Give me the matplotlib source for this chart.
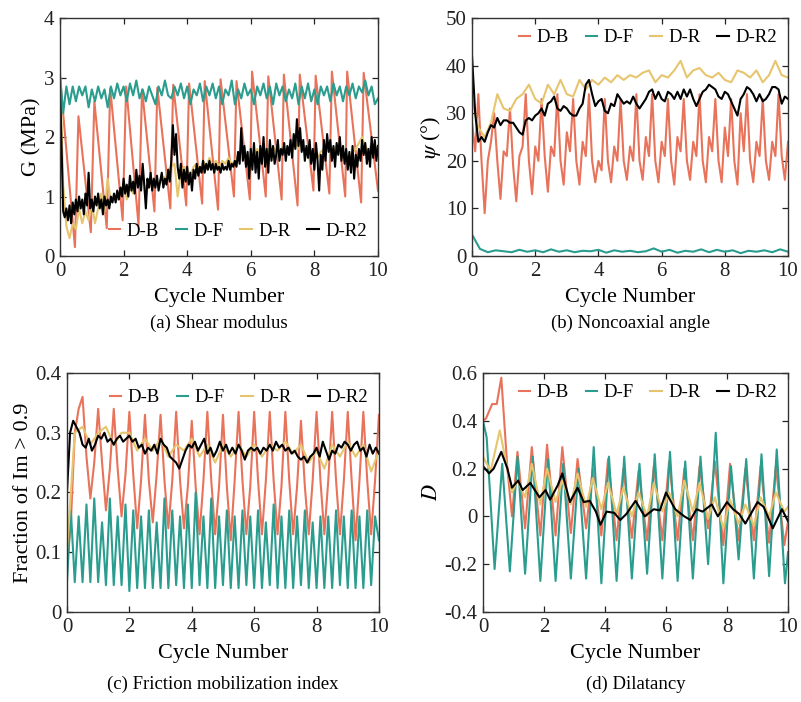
import numpy as np
import matplotlib
matplotlib.use("Agg")
import matplotlib.pyplot as plt

plt.rcParams['font.family'] = ['Liberation Serif', 'DejaVu Serif']
plt.rcParams['mathtext.fontset'] = 'stix'
plt.rcParams['axes.unicode_minus'] = False

# colours of the four specimens
c_b = '#E8735A'
c_f = '#2A9D8F'
c_r = '#E6C56E'
c_r2 = '#000000'
names = ['D-B', 'D-F', 'D-R', 'D-R2']

# ---------------- (a) shear modulus G (MPa) ----------------
xb_a = [0, 0.47, 0.58, 0.97, 1.08, 1.47, 1.58, 1.97, 2.08, 2.47, 2.58, 2.97, 3.06,
        3.47, 3.56, 3.97, 4.06, 4.47, 4.55, 4.97, 5.05, 5.47, 5.55, 5.97, 6.04,
        6.47, 6.55, 6.97, 7.04, 7.47, 7.54, 7.97, 8.04, 8.47, 8.55, 8.97, 9.03,
        9.47, 9.55, 10.0]
yb_a = [3.0, 0.15, 2.35, 0.4, 2.6, 0.47, 2.82, 0.6, 2.85, 0.52, 2.8, 0.75, 2.83,
        0.8, 2.88, 0.85, 2.9, 0.88, 2.94, 0.78, 2.97, 1.0, 2.94, 0.95, 3.1,
        1.0, 3.02, 0.95, 3.05, 0.85, 3.05, 1.1, 3.03, 1.05, 3.1, 1.0, 3.1,
        0.9, 3.08, 1.1]
yf_a = [3.05, 2.40, 2.85, 2.55, 2.85, 2.60, 2.85, 2.70, 2.85, 2.50,
        2.80, 2.60, 2.85, 2.65, 2.80, 2.50, 2.85, 2.65, 2.90, 2.70,
        2.85, 2.60, 2.90, 2.70, 2.95, 2.65, 2.80, 2.60, 2.85, 2.70,
        2.55, 2.85, 2.70, 2.95, 2.70, 2.65, 2.85, 2.70, 2.90, 2.65,
        2.85, 2.55, 2.80, 2.70, 2.90, 2.60, 2.85, 2.70, 2.90, 2.65,
        2.85, 2.55, 2.80, 2.70, 2.95, 2.55, 2.80, 2.65, 2.90, 2.70,
        2.80, 2.55, 2.85, 2.70, 2.90, 2.65, 2.85, 2.55, 2.90, 2.70,
        2.85, 2.60, 2.80, 2.65, 2.90, 2.55, 2.85, 2.65, 2.90, 2.60,
        2.80, 2.55, 2.85, 2.70, 2.85, 2.60, 2.90, 2.70, 2.85, 2.60,
        2.85, 2.70, 2.90, 2.65, 2.85, 2.75, 2.95, 2.70, 2.85, 2.55,
        2.65]
yr_a = [3.10, 1.20, 0.50, 0.30, 0.55, 0.45, 0.80, 0.55, 0.75, 0.60,
        0.90, 0.55, 0.80, 1.05, 0.75, 1.30, 0.90, 1.00, 0.95, 1.10,
        1.20, 0.95, 1.15, 1.05, 1.30, 1.20, 1.35, 1.00, 1.25, 1.15,
        1.30, 1.20, 1.35, 1.30, 1.45, 1.50, 1.55, 1.00, 1.40, 1.50,
        1.45, 1.35, 1.50, 1.55, 1.40, 1.60, 1.50, 1.65, 1.50, 1.60,
        1.50, 1.60, 1.55, 1.65, 1.55, 1.60, 1.70, 1.75, 1.65, 1.60,
        1.75, 1.65, 1.80, 1.70, 1.80, 1.65, 1.80, 1.75, 1.85, 1.70,
        1.85, 1.75, 1.80, 1.85, 1.90, 1.80, 1.90, 1.75, 1.80, 1.70,
        1.75, 1.65, 1.75, 1.80, 1.85, 1.80, 1.75, 1.85, 1.80, 1.75,
        1.70, 1.65, 1.75, 1.80, 1.90, 2.00, 1.85, 1.75, 1.90, 1.80,
        1.85]
yr2_a = [2.90, 1.80, 0.75, 0.65, 0.80, 0.60, 0.85, 0.55, 0.90, 0.70,
         0.95, 0.75, 1.00, 0.80, 0.95, 0.70, 1.05, 0.85, 1.40, 0.80,
         0.95, 0.75, 1.00, 0.85, 1.05, 0.80, 0.95, 0.70, 1.00, 0.85,
         0.95, 0.80, 1.00, 0.90, 1.05, 0.90, 1.10, 0.95, 1.15, 1.00,
         1.30, 1.05, 1.20, 1.00, 1.35, 1.10, 1.25, 1.05, 1.45, 1.15,
         1.35, 1.10, 1.55, 1.20, 0.80, 1.30, 1.15, 1.40, 1.10, 1.30,
         1.15, 1.35, 1.10, 1.25, 1.40, 1.15, 1.30, 1.20, 1.45, 1.25,
         1.60, 2.20, 1.70, 2.05, 1.50, 1.30, 1.55, 1.15, 1.45, 1.25,
         1.50, 1.20, 1.40, 1.10, 1.45, 1.30, 1.55, 1.35, 1.50, 1.40,
         1.60, 1.40, 1.55, 1.45, 1.60, 1.45, 1.55, 1.40, 1.55, 1.45,
         1.50, 1.40, 1.55, 1.45, 1.50, 1.45, 1.60, 1.45, 1.55, 1.50,
         1.60, 1.50, 1.75, 1.55, 2.15, 1.60, 1.85, 1.50, 1.75, 1.30,
         1.80, 1.45, 1.90, 1.40, 1.75, 1.30, 1.85, 1.55, 2.00, 1.50,
         1.80, 1.40, 1.95, 1.60, 1.85, 1.55, 1.70, 1.95, 1.60, 1.80,
         1.70, 1.90, 1.60, 1.85, 1.70, 1.95, 1.65, 2.05, 1.80, 2.30,
         1.85, 2.15, 1.75, 1.95, 1.60, 1.85, 1.65, 1.95, 1.55, 1.80,
         1.45, 1.90, 1.60, 1.10, 1.70, 1.45, 1.95, 1.60, 2.05, 1.75,
         1.95, 1.60, 1.85, 1.50, 1.90, 1.70, 2.00, 1.60, 1.85, 1.55,
         1.80, 1.45, 1.75, 1.40, 1.85, 1.30, 1.70, 1.50, 1.80, 1.60,
         1.95, 1.70, 1.90, 1.55, 1.80, 1.50, 2.00, 1.65, 1.95, 1.60,
         1.85]

# ---------------- (b) noncoaxial angle psi (deg) ----------------
yb_b = [28, 22, 34, 20, 9, 20, 24, 30, 20, 12,
        22, 21, 31, 19, 11.5, 21, 23, 34, 20, 13,
        23, 20, 33, 21, 13.5, 23, 21, 34, 20, 15,
        26, 22, 33, 20, 15, 24, 21, 34, 20, 15.5,
        20, 18, 33, 20, 15.5, 23, 20, 33, 20, 16,
        23, 20, 34, 20, 16, 25, 21, 34, 20, 15.5,
        24, 21, 33, 20, 15, 25, 22, 33, 20, 16,
        24, 21, 34, 20, 15.5, 25, 22, 33, 20, 15.5,
        27, 21, 33, 20, 15, 30, 22, 34, 20, 15.5,
        24, 21, 33, 20, 16, 24, 21, 34, 21, 16,
        24]
yf_b = [4.5, 1.5, 0.8, 1.2, 1.0, 0.8, 1.3, 0.9, 1.2, 0.8,
        1.4, 0.9, 1.2, 0.8, 1.1, 1.0, 1.3, 0.7, 1.2, 0.9,
        1.1, 0.8, 1.0, 1.6, 0.9, 1.3, 0.7, 1.1, 0.9, 1.4,
        0.8, 1.3, 0.9, 1.2, 0.6, 1.1, 0.9, 1.2, 0.8, 1.4,
        0.9]
yr_b = [33, 27, 25, 28, 34, 31, 30.5, 33, 34, 36,
        33, 32, 36, 34, 37, 34, 33.5, 37, 35, 37,
        36, 37.5, 36.5, 38, 37, 38, 37.5, 38.5, 39, 36.5,
        38, 37.5, 39, 41, 37.5, 39, 39.5, 38, 37.5, 38.5,
        37, 36.5, 39, 38.5, 37.5, 39, 36.5, 38, 41, 38,
        37.5]
yr2_b = [42, 30, 24, 25, 24, 26, 27.5, 27, 29, 27.5,
         28.5, 28.5, 28, 28, 27, 26, 25.5, 28.5, 29, 28.5,
         29.5, 30, 31, 29.5, 32, 32.5, 33.5, 31, 30.5, 31.5,
         31, 30, 29.5, 29.5, 31, 32, 36, 37, 34, 31.5,
         32.5, 33, 30.5, 30, 32, 31.5, 34, 33, 32, 32.5,
         32, 33.5, 32, 31, 32, 33, 34.5, 35, 33, 34.5,
         33, 32.5, 34.5, 34, 33, 34.5, 33, 35, 33.5, 35,
         33, 31.5, 33, 34.5, 35, 36, 35.5, 35, 33.5, 33,
         34.5, 34, 32.5, 31, 29.5, 33, 34, 35.5, 35, 34,
         32.5, 34, 32.5, 33, 34, 35.5, 35.5, 35, 32, 33.5,
         33]

# ---------------- (c) fraction of Im > 0.9 ----------------
yb_c = [0.08, 0.15, 0.30, 0.34, 0.36, 0.26, 0.19, 0.25,
        0.34, 0.25, 0.17, 0.24, 0.34, 0.24, 0.16, 0.23,
        0.335, 0.23, 0.14, 0.22, 0.33, 0.22, 0.15, 0.23,
        0.33, 0.22, 0.14, 0.22, 0.335, 0.22, 0.14, 0.21,
        0.32, 0.21, 0.13, 0.22, 0.335, 0.22, 0.13, 0.21,
        0.33, 0.21, 0.12, 0.22, 0.335, 0.22, 0.13, 0.21,
        0.335, 0.22, 0.13, 0.22, 0.335, 0.22, 0.13, 0.21,
        0.335, 0.22, 0.13, 0.21, 0.32, 0.21, 0.13, 0.22,
        0.335, 0.22, 0.13, 0.22, 0.335, 0.22, 0.13, 0.22,
        0.335, 0.22, 0.12, 0.22, 0.335, 0.22, 0.13, 0.22,
        0.33]
yf_c = [0.05, 0.17, 0.05, 0.16, 0.05, 0.18, 0.05, 0.19,
        0.05, 0.15, 0.045, 0.19, 0.045, 0.16, 0.045, 0.18,
        0.035, 0.17, 0.04, 0.16, 0.04, 0.17, 0.04, 0.15,
        0.04, 0.19, 0.04, 0.17, 0.045, 0.16, 0.04, 0.18,
        0.04, 0.20, 0.045, 0.16, 0.04, 0.19, 0.04, 0.16,
        0.045, 0.17, 0.04, 0.16, 0.04, 0.17, 0.045, 0.16,
        0.04, 0.17, 0.04, 0.15, 0.045, 0.18, 0.04, 0.16,
        0.04, 0.17, 0.04, 0.16, 0.045, 0.17, 0.04, 0.15,
        0.04, 0.16, 0.04, 0.16, 0.04, 0.17, 0.045, 0.16,
        0.04, 0.17, 0.04, 0.16, 0.04, 0.17, 0.045, 0.16,
        0.12]
yr_c = [0.10, 0.30, 0.31, 0.28, 0.30, 0.31, 0.28, 0.30, 0.30, 0.27,
        0.29, 0.27, 0.29, 0.26, 0.28, 0.27, 0.29, 0.26, 0.28, 0.25,
        0.28, 0.26, 0.28, 0.26, 0.28, 0.26, 0.28, 0.27, 0.285, 0.265,
        0.28, 0.25, 0.27, 0.24, 0.28, 0.26, 0.285, 0.26, 0.28, 0.235,
        0.27]
yr2_c = [0.20, 0.30, 0.32, 0.31, 0.30, 0.28, 0.275, 0.29, 0.27, 0.28,
         0.295, 0.29, 0.30, 0.285, 0.29, 0.28, 0.29, 0.295, 0.285, 0.29,
         0.295, 0.285, 0.29, 0.275, 0.28, 0.265, 0.275, 0.27, 0.28, 0.265,
         0.29, 0.28, 0.275, 0.26, 0.255, 0.25, 0.24, 0.255, 0.27, 0.28,
         0.275, 0.285, 0.27, 0.28, 0.29, 0.265, 0.275, 0.26, 0.27, 0.285,
         0.27, 0.28, 0.265, 0.275, 0.265, 0.28, 0.27, 0.255, 0.27, 0.275,
         0.27, 0.275, 0.265, 0.275, 0.27, 0.28, 0.27, 0.285, 0.275, 0.28,
         0.27, 0.275, 0.265, 0.27, 0.26, 0.255, 0.26, 0.25, 0.26, 0.265,
         0.275, 0.26, 0.285, 0.27, 0.255, 0.27, 0.265, 0.28, 0.275, 0.285,
         0.28, 0.27, 0.28, 0.285, 0.27, 0.275, 0.26, 0.28, 0.265, 0.275,
         0.265]

# ---------------- (d) dilatancy D ----------------
xb_d = [0, 0.1, 0.3, 0.45, 0.6, 0.8, 0.95, 1.13, 1.38, 1.6, 1.88, 2.1, 2.38,
        2.6, 2.88, 3.1, 3.38, 3.6, 3.88, 4.1, 4.38, 4.6, 4.88, 5.1, 5.38,
        5.6, 5.88, 6.1, 6.38, 6.6, 6.88, 7.1, 7.38, 7.6, 7.88, 8.1, 8.38,
        8.6, 8.88, 9.1, 9.38, 9.6, 9.88, 10.0]
yb_d = [0.40, 0.41, 0.47, 0.47, 0.58, 0.20, 0.0, 0.27, -0.05, 0.29, -0.08,
        0.30, -0.08, 0.29, -0.07, 0.24, -0.05, 0.20, -0.08, 0.24, -0.10,
        0.20, -0.09, 0.19, -0.10, 0.21, -0.10, 0.23, -0.10, 0.20, -0.10,
        0.21, -0.05, 0.23, -0.12, 0.22, -0.10, 0.20, -0.10, 0.21, -0.11,
        0.21, -0.12, -0.02]
xf_d = [0, 0.12, 0.38, 0.63, 0.88, 1.13, 1.38, 1.63, 1.88, 2.13, 2.38, 2.63,
        2.88, 3.13, 3.38, 3.63, 3.88, 4.13, 4.38, 4.63, 4.88, 5.13, 5.38,
        5.63, 5.88, 6.13, 6.38, 6.63, 6.88, 7.13, 7.38, 7.63, 7.88, 8.13,
        8.38, 8.63, 8.88, 9.13, 9.38, 9.63, 9.9, 10.0]
yf_d = [0.40, 0.33, -0.22, 0.22, -0.23, 0.25, -0.24, 0.25, -0.27, 0.24,
        -0.27, 0.22, -0.26, 0.20, -0.26, 0.29, -0.28, 0.25, -0.27, 0.25,
        -0.26, 0.22, -0.24, 0.26, -0.26, 0.27, -0.27, 0.23, -0.26, 0.25,
        -0.20, 0.35, -0.28, 0.21, -0.18, 0.24, -0.26, 0.26, -0.25, 0.28,
        -0.28, -0.15]
xr_d = [0, 0.25, 0.55, 0.95, 1.13, 1.38, 1.6, 1.88, 2.1, 2.38, 2.6, 2.88,
        3.1, 3.38, 3.6, 3.88, 4.1, 4.38, 4.6, 4.88, 5.1, 5.38, 5.6, 5.88,
        6.1, 6.38, 6.6, 6.88, 7.1, 7.38, 7.6, 7.88, 8.1, 8.38, 8.6, 8.88,
        9.1, 9.38, 9.6, 9.88, 10.0]
yr_d = [0.25, 0.19, 0.36, 0.10, 0.15, 0.08, 0.22, 0.05, 0.20, 0.06, 0.15,
        0.05, 0.18, 0.04, 0.16, 0.03, 0.14, 0.01, 0.12, 0.0, 0.10, 0.0,
        0.14, 0.02, 0.10, 0.0, 0.15, 0.02, 0.14, -0.01, 0.08, -0.05, 0.07,
        -0.03, 0.05, -0.04, 0.08, 0.0, 0.10, 0.02, 0.04]
xr2_d = [0, 0.2, 0.35, 0.6, 0.8, 0.95, 1.15, 1.3, 1.55, 1.85, 2.05, 2.2, 2.45,
         2.6, 2.85, 3.1, 3.3, 3.5, 3.7, 3.85, 4.05, 4.3, 4.5, 4.7, 5.0, 5.3,
         5.6, 5.8, 6.0, 6.3, 6.6, 6.8, 7.0, 7.2, 7.5, 7.7, 8.0, 8.2, 8.4, 8.6,
         9.0, 9.2, 9.5, 9.8, 10.0]
yr2_d = [0.21, 0.18, 0.20, 0.27, 0.20, 0.12, 0.15, 0.11, 0.14, 0.08, 0.11,
         0.07, 0.13, 0.18, 0.06, 0.12, 0.06, 0.065, 0.02, -0.035, 0.02, 0.015,
         -0.015, 0.01, 0.065, 0.0, 0.03, 0.025, 0.10, 0.03, 0.0, -0.015, 0.03,
         0.02, 0.05, 0.0, 0.06, 0.03, 0.01, -0.03, 0.06, 0.04, -0.05, 0.03,
         -0.02]


def grid(y):
    # evenly sampled cycle axis for a series
    return np.linspace(0, 10, len(y))


def style(ax, ylim, yticks, ylabels, ylab, caption, cap_y, lab_pad=2):
    ax.set_xlim(0, 10)
    ax.set_ylim(*ylim)
    ax.set_xticks([0, 2, 4, 6, 8, 10])
    ax.set_xticklabels(['0', '2', '4', '6', '8', '10'])
    ax.set_yticks(yticks)
    ax.set_yticklabels(ylabels)
    ax.tick_params(direction='in', top=True, right=True, labelsize=15,
                   length=4, width=0.9, colors='#222222', pad=4)
    for s in ax.spines.values():
        s.set_linewidth(1.0)
        s.set_color('#333333')
    ax.set_xlabel('Cycle Number', fontsize=16, labelpad=5)
    ax.set_ylabel(ylab, fontsize=16, labelpad=lab_pad)
    pos = ax.get_position()
    fig.text(pos.x0 + pos.width / 2, cap_y, caption, ha='center', va='center',
             fontsize=13.5)


def legend(ax, loc, anchor):
    ax.legend(names, loc=loc, bbox_to_anchor=anchor, ncol=4, frameon=False,
              fontsize=13.5, handlelength=0.6, handletextpad=0.35,
              columnspacing=0.9, borderaxespad=0.2)


fig = plt.figure(figsize=(8.01, 7.02), dpi=100)
lw = 1.5

# (a)
ax = fig.add_axes([0.0749, 0.6353, 0.397, 0.339])
ax.plot(xb_a, yb_a, color=c_b, lw=lw)
ax.plot(grid(yf_a), yf_a, color=c_f, lw=lw)
ax.plot(grid(yr_a), yr_a, color=c_r, lw=lw)
ax.plot(grid(yr2_a), yr2_a, color=c_r2, lw=lw)
style(ax, (0, 4), [0, 1, 2, 3, 4], ['0', '1', '2', '3', '4'], 'G (MPa)',
      '(a) Shear modulus', 1 - 323 / 702)
legend(ax, 'lower right', (1.0, 0.02))

# (b)
ax = fig.add_axes([0.5893, 0.6353, 0.3945, 0.339])
ax.plot(grid(yb_b), yb_b, color=c_b, lw=lw)
ax.plot(grid(yf_b), yf_b, color=c_f, lw=lw)
ax.plot(grid(yr_b), yr_b, color=c_r, lw=lw)
ax.plot(grid(yr2_b), yr2_b, color=c_r2, lw=lw)
style(ax, (0, 50), [0, 10, 20, 30, 40, 50], ['0', '10', '20', '30', '40', '50'],
      r'$\psi$ (°)', '(b) Noncoaxial angle', 1 - 323 / 702)
legend(ax, 'upper right', (1.0, 1.0))

# (c)
ax = fig.add_axes([0.0836, 0.1282, 0.3895, 0.3405])
ax.plot(grid(yb_c), yb_c, color=c_b, lw=lw)
ax.plot(grid(yf_c), yf_c, color=c_f, lw=lw)
ax.plot(grid(yr_c), yr_c, color=c_r, lw=lw)
ax.plot(grid(yr2_c), yr2_c, color=c_r2, lw=lw)
style(ax, (0, 0.4), [0, 0.1, 0.2, 0.3, 0.4], ['0', '0.1', '0.2', '0.3', '0.4'],
      'Fraction of Im > 0.9', '(c) Friction mobilization index', 1 - 684 / 702)
legend(ax, 'upper right', (1.0, 0.98))

# (d)
ax = fig.add_axes([0.603, 0.1282, 0.3808, 0.3405])
ax.plot(xb_d, yb_d, color=c_b, lw=lw)
ax.plot(xf_d, yf_d, color=c_f, lw=lw)
ax.plot(xr_d, yr_d, color=c_r, lw=lw)
ax.plot(xr2_d, yr2_d, color=c_r2, lw=lw)
style(ax, (-0.4, 0.6), [-0.4, -0.2, 0, 0.2, 0.4, 0.6],
      ['-0.4', '-0.2', '0', '0.2', '0.4', '0.6'], r'$D$',
      '(d) Dilatancy', 1 - 684 / 702)
legend(ax, 'upper right', (1.0, 1.0))

fig.savefig('out.png', dpi=100)
